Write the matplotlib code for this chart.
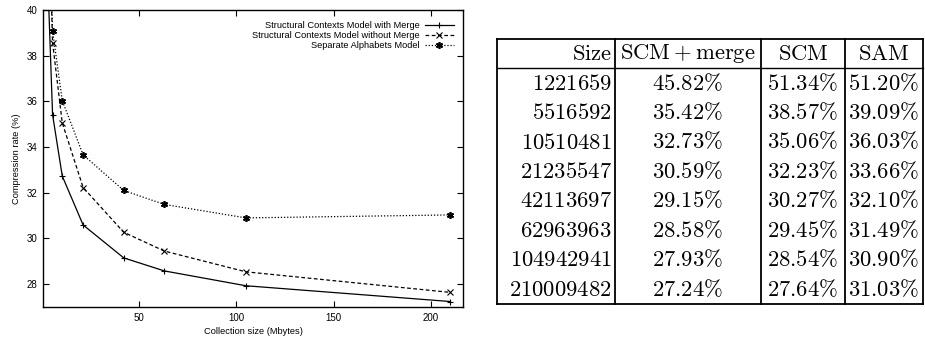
import numpy as np
import matplotlib
matplotlib.use("Agg")
import matplotlib.pyplot as plt

plt.rcParams['font.family'] = ['Liberation Sans', 'DejaVu Sans']
plt.rcParams['mathtext.fontset'] = 'cm'

# data (from the table)
sizes = [1221659, 5516592, 10510481, 21235547, 42113697, 62963963, 104942941, 210009482]
scm_merge = [45.82, 35.42, 32.73, 30.59, 29.15, 28.58, 27.93, 27.24]
scm = [51.34, 38.57, 35.06, 32.23, 30.27, 29.45, 28.54, 27.64]
sam = [51.20, 39.09, 36.03, 33.66, 32.10, 31.49, 30.90, 31.03]
headers = ["Size", "SCM+merge", "SCM", "SAM"]

mb = np.array(sizes) / 1e6

fig = plt.figure(figsize=(9.25, 3.38), dpi=100)
W, H = 925, 338
ax = fig.add_axes([43 / W, 1 - 307 / H, (463 - 43) / W, (307 - 10) / H])

ax.plot(mb, scm_merge, color='black', lw=0.9, marker='+', ms=5, mew=0.8,
        label="Structural Contexts Model with Merge")
ax.plot(mb, scm, color='black', lw=0.9, ls=(0, (3, 2)), marker='x', ms=4, mew=0.8,
        label="Structural Contexts Model without Merge")
ax.plot(mb, sam, color='black', lw=0.9, ls=(0, (1, 1.5)), marker=(6, 2, 0), ms=5, mew=1.2,
        label="Separate Alphabets Model")

ax.set_xlim(0.6, 216.6)
ax.set_ylim(27, 40)
ax.set_xticks([50, 100, 150, 200])
ax.set_yticks([28, 30, 32, 34, 36, 38, 40])
ax.tick_params(direction='in', length=4, width=0.8, labelsize=7, pad=4,
               top=True, right=True)
for s in ax.spines.values():
    s.set_linewidth(1.0)
ax.set_xlabel("Collection size (Mbytes)", fontsize=6.7, labelpad=3)
ax.set_ylabel("Compression rate (%)", fontsize=6.7, labelpad=4)

ax.legend(loc='upper right', bbox_to_anchor=(0.995, 0.985), frameon=False,
          markerfirst=False, fontsize=6.7, handlelength=3.2, handletextpad=0.5,
          labelspacing=0.1, borderpad=0.2)

# table on the right
tab = fig.add_axes([0, 0, 1, 1])
tab.set_xlim(0, W)
tab.set_ylim(H, 0)
tab.axis('off')

top, bottom = 39, 304
rh = (bottom - top) / 9
vlines = [497, 615, 761, 845, 923]
tab.plot([vlines[0], vlines[-1]], [top, top], color='black', lw=1.3)
tab.plot([vlines[0], vlines[-1]], [top + rh, top + rh], color='black', lw=1.0)
tab.plot([vlines[0], vlines[-1]], [bottom, bottom], color='black', lw=1.3)
for vx in vlines:
    tab.plot([vx, vx], [top, bottom], color='black', lw=1.3)

fs = 16.3
def cm(s):
    return r'$\mathrm{' + s.replace('%', r'\%') + '}$'

hy = top + rh / 2
tab.text(612, hy, cm(headers[0]), ha='right', va='center', fontsize=fs)
tab.text(688, hy, cm(headers[1]), ha='center', va='center', fontsize=fs)
tab.text(803, hy, cm(headers[2]), ha='center', va='center', fontsize=fs)
tab.text(884, hy, cm(headers[3]), ha='center', va='center', fontsize=fs)

for i in range(len(sizes)):
    y = top + rh * (i + 1.5)
    tab.text(612, y, cm(str(sizes[i])), ha='right', va='center', fontsize=fs)
    tab.text(688, y, cm(f"{scm_merge[i]:.2f}%"), ha='center', va='center', fontsize=fs)
    tab.text(803, y, cm(f"{scm[i]:.2f}%"), ha='center', va='center', fontsize=fs)
    tab.text(884, y, cm(f"{sam[i]:.2f}%"), ha='center', va='center', fontsize=fs)

fig.savefig("out.png", dpi=100)
